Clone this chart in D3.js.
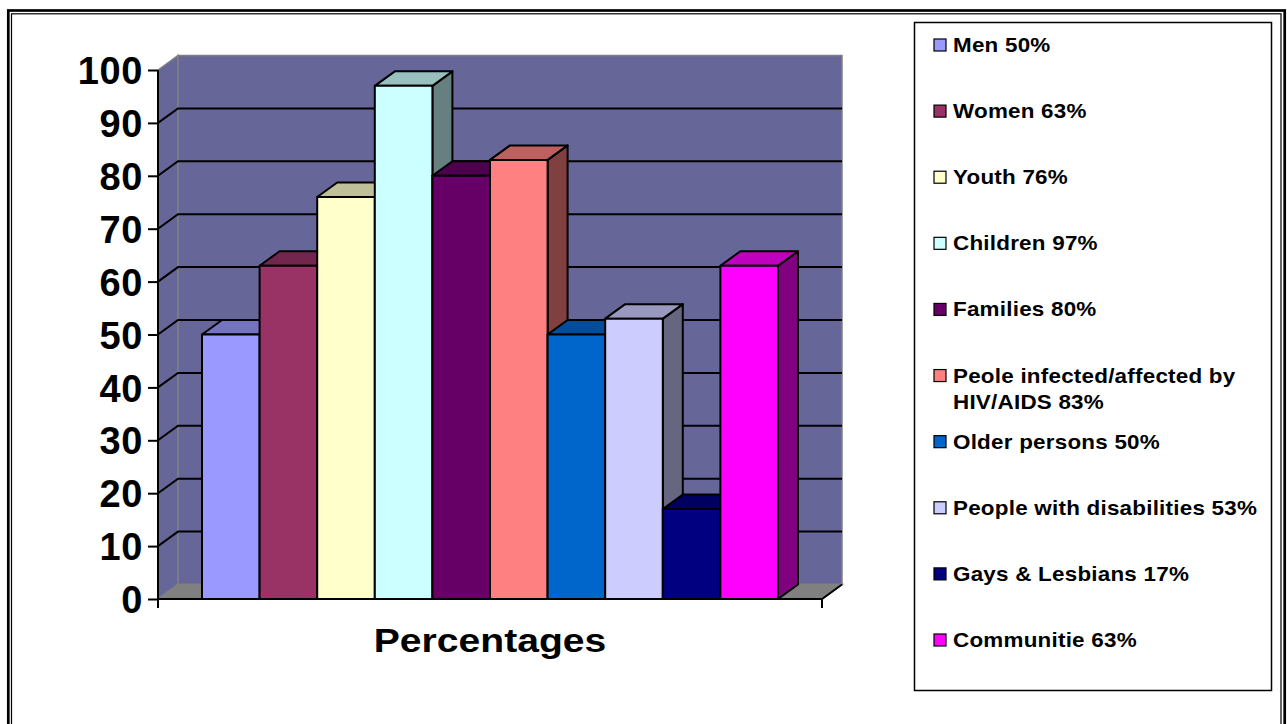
<!DOCTYPE html>
<html>
<head>
<meta charset="utf-8">
<script src="https://cdn.jsdelivr.net/npm/d3@7"></script>
<style>
  html, body { margin: 0; padding: 0; background: #fff; }
  svg { display: block; }
  text { font-family: Arial, "Liberation Sans", sans-serif; font-weight: bold; fill: #000; }
</style>
</head>
<body>
<svg id="chart" width="1287" height="724"></svg>
<script>
// Target groups and the share of respondents naming each one
const groups = ["Men", "Women", "Youth", "Children", "Families",
  "Peole infected/affected by HIV/AIDS", "Older persons",
  "People with disabilities", "Gays & Lesbians", "Communitie"];
const percentages = [50, 63, 76, 97, 80, 83, 50, 53, 17, 63];
const groupColors = ["#9999FF", "#993366", "#FFFFCC", "#CCFFFF", "#660066",
  "#FF8080", "#0066CC", "#CCCCFF", "#000080", "#FF00FF"];
const yTicks = [0, 10, 20, 30, 40, 50, 60, 70, 80, 90, 100];
const axisTitle = "Percentages";

const svg = d3.select("#chart");
const textStretch = 1.15;   // wide lettering used for the title and legend

// Double-line frame around the whole chart
svg.append("rect").attr("x", 8.3).attr("y", 10.5).attr("width", 1276.4).attr("height", 760)
  .attr("fill", "none").attr("stroke", "#000").attr("stroke-width", 2.7);
svg.append("rect").attr("x", 11.5).attr("y", 13.8).attr("width", 1269.5).attr("height", 760)
  .attr("fill", "none").attr("stroke", "#000").attr("stroke-width", 1.2);

// Plot geometry
const plotLeft = 158, plotRight = 822, plotBase = 599, plotTop = 70;
const DX = 20, DY = -14.5;          // oblique depth offset
const x = d3.scaleBand().domain(groups).range([plotLeft, plotRight])
  .paddingInner(0).paddingOuter(0.764);
const y = d3.scaleLinear().domain([0, 100]).range([plotBase, plotTop]);

const pts = a => a.map(p => p.join(",")).join(" ");
const wallFill = "#666699", edge = "#808080";

// Side wall
svg.append("polygon")
  .attr("points", pts([[plotLeft, y(100)], [plotLeft + DX, y(100) + DY], [plotLeft + DX, plotBase + DY], [plotLeft, plotBase]]))
  .attr("fill", wallFill).attr("stroke", edge).attr("stroke-width", 1.5);
// Back wall
svg.append("polygon")
  .attr("points", pts([[plotLeft + DX, y(100) + DY], [plotRight + DX, y(100) + DY], [plotRight + DX, plotBase + DY], [plotLeft + DX, plotBase + DY]]))
  .attr("fill", wallFill).attr("stroke", edge).attr("stroke-width", 1.5);

// Gridlines across the side and back walls
const grid = yTicks.filter(v => v > 0 && v < 100);
svg.append("g").selectAll("path").data(grid).join("path")
  .attr("d", v => `M${plotLeft},${y(v)}L${plotLeft + DX},${y(v) + DY}L${plotRight + DX},${y(v) + DY}`)
  .attr("fill", "none").attr("stroke", "#000").attr("stroke-width", 2);

// Floor
svg.append("polygon")
  .attr("points", pts([[plotLeft, plotBase], [plotLeft + DX, plotBase + DY], [plotRight + DX, plotBase + DY], [plotRight, plotBase]]))
  .attr("fill", "#808080").attr("stroke", edge).attr("stroke-width", 1.5);
svg.append("path")
  .attr("d", `M${plotLeft},${plotBase}L${plotRight},${plotBase}L${plotRight + DX},${plotBase + DY}`)
  .attr("fill", "none").attr("stroke", "#000").attr("stroke-width", 2);

// Value axis with ticks and labels
const yAxis = d3.axisLeft(y).tickValues(yTicks).tickSize(10).tickPadding(5);
const ax = svg.append("g").attr("transform", `translate(${plotLeft},0)`).call(yAxis);
ax.select(".domain").attr("stroke", "#000").attr("stroke-width", 2)
  .attr("d", `M0,${y(100)}V${plotBase + 9}`);
ax.selectAll(".tick line").attr("stroke", "#000").attr("stroke-width", 2);
ax.selectAll(".tick text")
  .style("font-family", "Arial, 'Liberation Sans', sans-serif")
  .style("font-weight", "bold").attr("font-size", 38).attr("fill", "#000")
  .attr("letter-spacing", 0.6).attr("dy", "0.36em");
// Category axis end tick
svg.append("path")
  .attr("d", `M${plotRight},${plotBase}V${plotBase + 9}`)
  .attr("stroke", "#000").attr("stroke-width", 2);

// 3D columns, painted left to right
const shade = (c, k) => { const r = d3.rgb(c); return d3.rgb(r.r * k, r.g * k, r.b * k).formatHex(); };
const bars = svg.append("g").selectAll("g").data(groups).join("g");
bars.each(function (g, i) {
  const sel = d3.select(this);
  const x0 = x(g), x1 = x(g) + x.bandwidth(), yt = y(percentages[i]);
  const c = groupColors[i];
  sel.append("polygon")
    .attr("points", pts([[x1, yt], [x1 + DX, yt + DY], [x1 + DX, plotBase + DY], [x1, plotBase]]))
    .attr("fill", shade(c, 0.5));
  sel.append("polygon")
    .attr("points", pts([[x0, yt], [x0 + DX, yt + DY], [x1 + DX, yt + DY], [x1, yt]]))
    .attr("fill", shade(c, 0.75));
  sel.append("rect").attr("x", x0).attr("y", yt).attr("width", x1 - x0).attr("height", plotBase - yt)
    .attr("fill", c);
  sel.selectAll("polygon, rect").attr("stroke", "#000").attr("stroke-width", 2)
    .attr("stroke-linejoin", "round");
});

// Category axis title
svg.append("g")
  .attr("transform", `translate(${(plotLeft + plotRight) / 2},652) scale(${textStretch},1)`)
  .append("text").attr("x", 0).attr("y", 0)
  .attr("text-anchor", "middle").attr("font-size", 34)
  .text(axisTitle);

// Legend
svg.append("rect").attr("x", 914.5).attr("y", 22.5).attr("width", 357).attr("height", 668)
  .attr("fill", "#fff").attr("stroke", "#000").attr("stroke-width", 1.5);
const legendY = d3.scaleLinear().domain([0, groups.length - 1]).range([45, 640]);
const maxTextWidth = 268;
const items = svg.append("g").selectAll("g").data(groups).join("g")
  .attr("transform", (d, i) => `translate(0,${legendY(i)})`);
items.append("rect").attr("x", 934).attr("y", -6).attr("width", 12).attr("height", 12)
  .attr("fill", (d, i) => groupColors[i]).attr("stroke", "#000").attr("stroke-width", 1.2);
items.each(function (g, i) {
  const label = `${g} ${percentages[i]}%`;
  const t = d3.select(this).append("g")
    .attr("transform", `translate(953,7) scale(${textStretch},1)`)
    .append("text").attr("x", 0).attr("y", 0)
    .attr("font-size", 19.5).attr("letter-spacing", 0.2);
  // wrap long labels onto additional lines
  const words = label.split(" ");
  let line = [];
  let tspan = t.append("tspan").attr("x", 0).attr("dy", 0);
  words.forEach(w => {
    line.push(w);
    tspan.text(line.join(" "));
    if (tspan.node().getComputedTextLength() > maxTextWidth && line.length > 1) {
      line.pop();
      tspan.text(line.join(" "));
      line = [w];
      tspan = t.append("tspan").attr("x", 0).attr("dy", 26).text(w);
    }
  });
});
</script>
</body>
</html>
